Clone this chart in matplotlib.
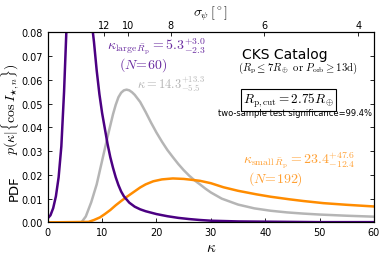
import matplotlib
matplotlib.use("Agg")
import matplotlib.pyplot as plt

plt.rcParams["mathtext.fontset"] = "cm"
plt.rcParams["xtick.direction"] = "in"
plt.rcParams["ytick.direction"] = "in"

# posterior curves
kap_large = [0.0, 0.5, 1.0, 1.5, 2.0, 2.5, 3.0, 3.5, 4.0, 4.5, 5.0, 5.5, 6.0, 6.5,
             7.0, 7.5, 8.0, 8.5, 9.0, 9.5, 10.0, 10.5, 11.0, 11.5, 12.0, 12.5,
             13.0, 13.5, 14.0, 15.0, 16.0, 17.0, 18.0, 19.0, 20.0, 22.0, 24.0,
             26.0, 28.0, 30.0, 35.0, 40.0, 50.0, 60.0]
pdf_large = [0.0017, 0.0030, 0.0060, 0.0110, 0.0190, 0.0320, 0.0550, 0.0850,
             0.1100, 0.1300, 0.1400, 0.1420, 0.1370, 0.1260, 0.1120, 0.0980,
             0.0860, 0.0760, 0.0640, 0.0540, 0.0460, 0.0395, 0.0330, 0.0275,
             0.0230, 0.0190, 0.0157, 0.0130, 0.0110, 0.0083, 0.0066, 0.0055,
             0.0047, 0.0041, 0.0035, 0.0026, 0.0019, 0.0014, 0.0010, 0.0007,
             0.0004, 0.0003, 0.0001, 0.0001]

kap_all = [0.0, 6.2, 7.0, 8.0, 9.0, 10.0, 11.0, 12.0, 12.5, 13.0, 13.5, 14.0,
           14.5, 15.0, 15.5, 16.0, 17.0, 18.0, 19.0, 20.0, 21.0, 22.0, 23.0,
           24.0, 25.0, 26.0, 27.0, 28.0, 29.0, 30.0, 32.0, 35.0, 38.0, 41.0,
           44.0, 47.0, 50.0, 55.0, 60.0]
pdf_all = [0.0, 0.0, 0.0025, 0.0085, 0.0160, 0.0260, 0.0360, 0.0455, 0.0495,
           0.0527, 0.0546, 0.0556, 0.0559, 0.0556, 0.0548, 0.0537, 0.0507,
           0.0465, 0.0420, 0.0378, 0.0340, 0.0305, 0.0275, 0.0246, 0.0220,
           0.0197, 0.0177, 0.0160, 0.0142, 0.0126, 0.0100, 0.0075, 0.0059,
           0.0049, 0.0042, 0.0037, 0.0033, 0.0028, 0.0024]

kap_small = [0.0, 7.5, 8.5, 9.6, 10.5, 11.5, 12.5, 13.5, 14.5, 15.5, 17.0, 18.0,
             19.4, 21.0, 23.0, 25.0, 26.2, 28.0, 30.0, 32.3, 35.0, 38.4, 41.0,
             44.5, 47.0, 50.7, 55.0, 60.0]
pdf_small = [0.0, 0.0002, 0.0010, 0.0021, 0.0035, 0.0052, 0.0072, 0.0090,
             0.0107, 0.0123, 0.0147, 0.0160, 0.0173, 0.0181, 0.0185, 0.0183,
             0.0180, 0.0175, 0.0165, 0.0148, 0.0133, 0.0118, 0.0108, 0.0097,
             0.0090, 0.0081, 0.0074, 0.0067]

# top axis: sigma_psi ticks and where they fall in kappa
sigma_labels = [12, 10, 8, 6, 4]
sigma_kappa = [10.4, 14.8, 22.6, 39.8, 57.1]

c_large = "#4B0082"
c_all = "#B5B5B5"
c_small = "#FF8C00"

fig = plt.figure(figsize=(3.82, 2.55), dpi=100)
ax = fig.add_axes([0.125, 0.124, 0.854, 0.745])

ax.plot(kap_all, pdf_all, color=c_all, lw=1.8)
ax.plot(kap_small, pdf_small, color=c_small, lw=1.8)
ax.plot(kap_large, pdf_large, color=c_large, lw=1.8)

ax.set_xlim(0, 60)
ax.set_ylim(0, 0.08)
ax.set_xticks([0, 10, 20, 30, 40, 50, 60])
ax.set_yticks([0, 0.01, 0.02, 0.03, 0.04, 0.05, 0.06, 0.07, 0.08])
ax.set_yticklabels(["%.2f" % v for v in ax.get_yticks()])
ax.tick_params(labelsize=7, length=3, right=True, width=0.6)
ax.set_xlabel(r"$\kappa$", fontsize=11)
ax.xaxis.set_label_coords(0.5, -0.085)

# y label: "PDF" plus the math part, which is drawn larger in the original
ax.set_ylabel(r"$p(\kappa|\{\cos I_{\star,n}\})$", fontsize=10)
ax.yaxis.set_label_coords(-0.078, 0.6)
ax.text(-0.084, 0.185, "PDF", transform=ax.transAxes, rotation=90,
        fontsize=9.5, ha="right", va="center")

ax2 = ax.twiny()
ax2.set_xlim(0, 60)
ax2.set_xticks(sigma_kappa)
ax2.set_xticklabels([str(s) for s in sigma_labels])
ax2.tick_params(labelsize=7, length=3, width=0.6, pad=2)
ax2.set_xlabel(r"$\sigma_\psi\,[^\circ]$", fontsize=10)
ax2.xaxis.set_label_coords(0.5, 1.09)

ax.text(10.9, 0.0742, r"$\kappa_{\mathrm{large}\,\bar{R}_\mathrm{p}}=5.3^{+3.0}_{-2.3}$",
        color="#6A2CA0", fontsize=10, va="center")
ax.text(17.6, 0.0668, r"$(N\!=\!60)$", color="#6A2CA0", fontsize=10,
        ha="center", va="center")
ax.text(16.5, 0.0585, r"$\kappa=14.3^{+13.3}_{-5.5}$", color=c_all,
        fontsize=9, va="center")
ax.text(35.7, 0.0710, "CKS Catalog", fontsize=10, ha="left", va="center")
ax.text(35.0, 0.0652,
        r"$(R_\mathrm{p}\leq 7R_\oplus\ \mathrm{or}\ P_\mathrm{orb}\geq 13\mathrm{d})$",
        fontsize=7.7, ha="left", va="center")
ax.text(44.3, 0.0517, r"$R_\mathrm{p,cut}=2.75R_\oplus$", fontsize=9.5,
        ha="center", va="center",
        bbox=dict(boxstyle="square,pad=0.15", fc="white", ec="black", lw=0.8))
ax.text(59.7, 0.0463, "two-sample test significance=99.4%", fontsize=6.0,
        ha="right", va="center")
ax.text(36.0, 0.0262, r"$\kappa_{\mathrm{small}\,\bar{R}_\mathrm{p}}=23.4^{+47.6}_{-12.4}$",
        color="#FFA033", fontsize=10, va="center")
ax.text(41.8, 0.0188, r"$(N\!=\!192)$", color="#FFA033", fontsize=10,
        ha="center", va="center")

fig.savefig("out.png", dpi=100)
